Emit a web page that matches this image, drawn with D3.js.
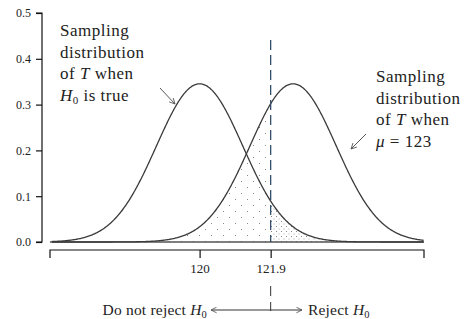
<!DOCTYPE html>
<html>
<head>
<meta charset="utf-8">
<script src="https://cdn.jsdelivr.net/npm/d3@7"></script>
<style>
  body { margin: 0; background: #fff; }
  svg text { font-family: "Liberation Serif", "Times New Roman", serif; fill: #222; }
  .lbl { font-size: 17px; letter-spacing: 0.5px; }
  .dec { font-size: 15.5px; letter-spacing: 0.2px; }
</style>
</head>
<body>
<div id="chart"></div>
<script>
(function chart(){
    const width = 465, height = 319;

    // values
    const yTicks = [0.0, 0.1, 0.2, 0.3, 0.4, 0.5];
    const xTicks = [120, 121.9];
    const xTickLabels = ["120", "121.9"];
    const xDomain = [116, 126];
    const centers = [120, 122.5];   // null curve, alternative curve (as drawn)
    const sigma = 1.155;
    const critical = 121.9;
    const leftLabel = ["Sampling", "distribution", "of |T| when", "H0 is true"];
    const rightLabel = ["Sampling", "distribution", "of |T| when", "μ = 123"];

    const svg = d3.select("#chart")
      .append("svg")
      .attr("width", width)
      .attr("height", height);

    const x = d3.scaleLinear().domain(xDomain).range([50, 424]);
    const y = d3.scaleLinear().domain([0, 0.5]).range([242, 13]);

    const dens = (t, m) => Math.exp(-0.5 * ((t - m) / sigma) ** 2) / (sigma * Math.sqrt(2 * Math.PI));
    const grid = d3.range(xDomain[0] + 0.05, xDomain[1] + 0.0001, 0.02);

    // stipple patterns
    const defs = svg.append("defs");
    const sparse = defs.append("pattern").attr("id", "sparse")
      .attr("patternUnits", "userSpaceOnUse").attr("width", 12).attr("height", 12);
    sparse.append("rect").attr("x", 1).attr("y", 1).attr("width", 1).attr("height", 1).attr("fill", "#888");
    sparse.append("rect").attr("x", 7).attr("y", 7).attr("width", 1).attr("height", 1).attr("fill", "#888");
    const dense = defs.append("pattern").attr("id", "dense")
      .attr("patternUnits", "userSpaceOnUse").attr("width", 5).attr("height", 5);
    dense.append("rect").attr("x", 1).attr("y", 1).attr("width", 1).attr("height", 1).attr("fill", "#888");
    dense.append("rect").attr("x", 3.5).attr("y", 3.5).attr("width", 1).attr("height", 1).attr("fill", "#aaa");

    defs.append("marker").attr("id", "arr")
      .attr("viewBox", "0 0 10 10").attr("refX", 9).attr("refY", 5)
      .attr("markerWidth", 7).attr("markerHeight", 7).attr("orient", "auto")
      .append("path").attr("d", "M1,1 L9,5 L1,9").attr("fill", "none")
      .attr("stroke", "#555").attr("stroke-width", 1.2);

    const area = d3.area().x(d => x(d[0])).y0(y(0)).y1(d => y(d[1]));

    // beta region: under alternative, left of critical value
    svg.append("path")
      .datum(grid.filter(t => t <= critical).concat([critical]).map(t => [t, dens(t, centers[1])]))
      .attr("fill", "url(#sparse)")
      .attr("d", area);
    // alpha region: under null, right of critical value
    svg.append("path")
      .datum([critical].concat(grid.filter(t => t >= critical)).map(t => [t, dens(t, centers[0])]))
      .attr("fill", "url(#dense)")
      .attr("d", area);

    // baseline
    svg.append("line")
      .attr("x1", x(xDomain[0])).attr("x2", x(xDomain[1]))
      .attr("y1", y(0)).attr("y2", y(0))
      .attr("stroke", "#555").attr("stroke-width", 1.6);

    const line = d3.line().x(d => x(d[0])).y(d => y(d[1]));
    centers.forEach(m => {
      svg.append("path")
        .datum(grid.map(t => [t, dens(t, m)]))
        .attr("fill", "none")
        .attr("stroke", "#3a3a3a")
        .attr("stroke-width", 1.3)
        .attr("d", line);
    });

    // critical value dashed line
    svg.append("line")
      .attr("x1", x(critical)).attr("x2", x(critical))
      .attr("y1", 40).attr("y2", y(0))
      .attr("stroke", "#34506c").attr("stroke-width", 1.3)
      .attr("stroke-dasharray", "10,5");

    // y axis
    const yAxis = svg.append("g")
      .attr("transform", "translate(42,0)")
      .call(d3.axisLeft(y).tickValues(yTicks).tickFormat(d3.format(".1f")).tickSize(6).tickPadding(5));
    yAxis.select(".domain").attr("stroke", "#111").attr("stroke-width", 1.2)
      .attr("d", `M-6,${y(0.5)}H0V${y(0)}H-6`);
    yAxis.selectAll(".tick line").attr("stroke", "#111").attr("stroke-width", 1.2);
    yAxis.selectAll("text").style("font-size", "12px").attr("fill", "#333")
      .style("font-family", "'Liberation Serif', serif");

    // x axis
    const xAxis = svg.append("g")
      .attr("transform", "translate(0,250)")
      .call(d3.axisBottom(x).tickValues(xTicks).tickFormat((d, i) => xTickLabels[i]).tickSize(8).tickPadding(6));
    xAxis.select(".domain").attr("stroke", "#111").attr("stroke-width", 1.2)
      .attr("d", `M${x(xDomain[0])},8V0H${x(xDomain[1])}V8`);
    xAxis.selectAll(".tick line").attr("stroke", "#111").attr("stroke-width", 1.2);
    xAxis.selectAll("text").style("font-size", "13px").attr("fill", "#333")
      .style("font-family", "'Liberation Serif', serif");

    // multi-line labels with italic T / H0
    const writeLines = (lines, x0, y0) => {
      lines.forEach((s, i) => {
        const t = svg.append("text").attr("class", "lbl").attr("x", x0).attr("y", y0 + i * 21.5);
        if (s.startsWith("H0")) {
          t.append("tspan").style("font-style", "italic").text("H");
          t.append("tspan").attr("dy", 3).style("font-size", "11px").text("0");
          t.append("tspan").attr("dy", -3).text(" " + s.slice(3));
        } else if (s.includes("|T|")) {
          const p = s.split("|T|");
          t.append("tspan").text(p[0]);
          t.append("tspan").style("font-style", "italic").text("T");
          t.append("tspan").text(p[1]);
        } else if (s.startsWith("μ")) {
          t.append("tspan").style("font-style", "italic").text("μ");
          t.append("tspan").text(s.slice(1));
        } else {
          t.text(s);
        }
      });
    };
    writeLines(leftLabel, 60, 36);
    writeLines(rightLabel, 376, 82);

    // pointer arrows
    svg.append("line").attr("x1", 160).attr("y1", 88).attr("x2", 175).attr("y2", 104)
      .attr("stroke", "#555").attr("stroke-width", 1).attr("marker-end", "url(#arr)");
    svg.append("line").attr("x1", 366).attr("y1", 134).attr("x2", 351).attr("y2", 149)
      .attr("stroke", "#555").attr("stroke-width", 1).attr("marker-end", "url(#arr)");

    // decision annotation below axis
    const xc = x(critical);
    svg.append("line").attr("x1", xc).attr("x2", xc).attr("y1", 286).attr("y2", 296)
      .attr("stroke", "#333").attr("stroke-width", 1);
    svg.append("line").attr("x1", xc).attr("x2", xc).attr("y1", 302).attr("y2", 311)
      .attr("stroke", "#333").attr("stroke-width", 1);
    svg.append("line").attr("x1", xc).attr("y1", 310).attr("x2", 211).attr("y2", 310)
      .attr("stroke", "#333").attr("stroke-width", 1).attr("marker-end", "url(#arr)");
    svg.append("line").attr("x1", xc).attr("y1", 310).attr("x2", 302).attr("y2", 310)
      .attr("stroke", "#333").attr("stroke-width", 1).attr("marker-end", "url(#arr)");

    const t1 = svg.append("text").attr("class", "dec").attr("x", 207).attr("y", 315)
      .attr("text-anchor", "end");
    t1.append("tspan").text("Do not reject ");
    t1.append("tspan").style("font-style", "italic").text("H");
    t1.append("tspan").attr("dy", 3).style("font-size", "10.5px").text("0");
    const t2 = svg.append("text").attr("class", "dec").attr("x", 308).attr("y", 315);
    t2.append("tspan").text("Reject ");
    t2.append("tspan").style("font-style", "italic").text("H");
    t2.append("tspan").attr("dy", 3).style("font-size", "10.5px").text("0");
})();
</script>
</body>
</html>
